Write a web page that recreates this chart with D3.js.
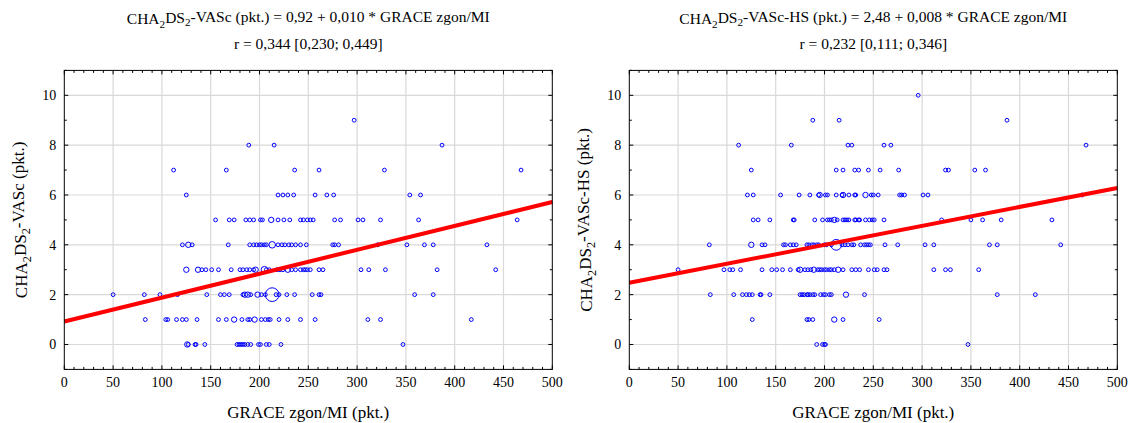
<!DOCTYPE html>
<html>
<head>
<meta charset="utf-8">
<script src="https://cdn.jsdelivr.net/npm/d3@7"></script>
<style>
	body { margin: 0; background: #fff; }
	svg { font-family: 'Liberation Serif', 'Times New Roman', serif; }
</style>
</head>
<body>
<div id="chart"></div>
<script>
// GRACE values per score level (index = score 0..10); repeated values = overlapping patients
var vascByScore = [
	[126,126,127,134,135,144,177,179,181,183,185,188,191,199,201,207,210,222,347],
	[83,104,106,115,121,125,136,158,166,174,174,182,188,190,195,195,202,206,209,211,220,229,242,257,311,324,417],
	[50,82,98,116,146,160,164,169,183,185,185,188,188,191,198,198,202,206,213,213,213,213,213,213,213,213,213,213,213,213,213,217,220,228,236,254,261,263,359,378],
	[125,125,137,137,141,145,151,158,171,180,183,187,190,194,196,196,205,205,205,207,210,218,221,224,229,229,233,237,242,245,247,249,252,261,265,304,312,329,382,442],
	[121,127,127,131,168,190,194,197,200,202,205,207,213,213,213,219,223,226,230,233,237,242,248,275,277,281,321,351,369,378,433],
	[155,169,174,186,190,194,201,203,212,212,219,225,231,242,245,249,252,255,277,283,301,306,324,363,464],
	[125,219,224,229,235,257,269,276,354,365],
	[112,166,236,261,328,468],
	[189,215,387],
	[297],
	[]
];
var hsByScore = [
	[192,198,200,201,347],
	[126,182,184,188,210,210,219,256],
	[83,107,116,120,123,126,134,135,144,175,177,179,182,183,185,188,190,196,199,201,205,207,222,222,241,377,416],
	[50,97,103,106,114,136,146,151,157,165,173,175,175,180,183,186,189,189,193,195,197,200,202,205,207,210,214,214,219,228,232,236,245,251,254,261,264,312,324,329,358],
	[82,125,125,136,139,158,160,165,168,171,182,184,187,189,192,194,200,202,207,212,212,212,212,212,212,212,212,218,221,224,228,230,237,241,243,245,247,262,275,303,312,369,377,442],
	[127,132,144,168,169,190,198,203,205,207,210,210,213,219,221,223,225,231,232,235,236,242,246,249,251,261,320,350,362,381,433],
	[121,127,155,174,185,194,195,195,201,203,212,218,219,219,225,231,232,242,242,248,250,255,277,279,282,301,306,464],
	[125,212,219,231,235,245,257,276,324,327,354,365],
	[112,166,224,228,261,268,468],
	[188,215,387],
	[296]
];

// regression lines
var intercepts = [0.92, 2.48];
var slopes = [0.0096, 0.0076];

var xTicks = [0,50,100,150,200,250,300,350,400,450,500];
var yTicks = [0,2,4,6,8,10];

var titleNames = ['CHA|2|DS|2|-VASc (pkt.) = 0,92 + 0,010 * GRACE zgon/MI', 'CHA|2|DS|2|-VASc-HS (pkt.) = 2,48 + 0,008 * GRACE zgon/MI'];
var titleR = ['r = 0,344 [0,230; 0,449]', 'r = 0,232 [0,111; 0,346]'];
var yTitles = ['CHA|2|DS|2|-VASc (pkt.)', 'CHA|2|DS|2|-VASc-HS (pkt.)'];
var xTitle = 'GRACE zgon/MI (pkt.)';

var svgWidth = 1132;
var svgHeight = 423;
var panelLeft = [64.3, 629.3];
var plotTop = 70.4;
var plotW = 488;
var plotH = 299;

var svg = d3.select('#chart')
	.append('svg')
	.attr('width', svgWidth)
	.attr('height', svgHeight);

// writes text with |sub| parts as subscripts
function subText(sel, str) {
	var parts = str.split('|');
	parts.forEach(function(p, i) {
		if (p === '') return;
		var t = sel.append('tspan').text(p);
		if (i % 2 == 1) {
			t.attr('dy', '0.3em').style('font-size', '0.72em');
		} else if (i > 0) {
			t.attr('dy', '-0.3em');
		}
	});
}

var x = d3.scaleLinear().domain([0, 500]).range([0, plotW]);
var y = d3.scaleLinear().domain([-1, 11]).range([plotH, 0]);
var rScale = function(n) { return 1.9 * Math.sqrt(n); };

[vascByScore, hsByScore].forEach(function(byScore, k) {
	var g = svg.append('g')
		.attr('transform', 'translate(' + panelLeft[k] + ',' + plotTop + ')');

	// grid
	g.selectAll('.gx').data(xTicks.slice(1, -1)).enter().append('line')
		.attr('x1', function(d){ return x(d); }).attr('x2', function(d){ return x(d); })
		.attr('y1', 0).attr('y2', plotH)
		.attr('stroke', '#d9d9d9').attr('stroke-width', 1.2);
	g.selectAll('.gy').data(yTicks).enter().append('line')
		.attr('y1', function(d){ return y(d); }).attr('y2', function(d){ return y(d); })
		.attr('x1', 0).attr('x2', plotW)
		.attr('stroke', '#d9d9d9').attr('stroke-width', 1.2);

	// inner ticks on all four sides
	var xMinor = d3.range(0, 501, 10);
	var yMinor = d3.range(-1, 12, 1);
	var tk = g.append('g').attr('stroke', '#000').attr('stroke-width', 1);
	xMinor.forEach(function(v) {
		var len = (v % 50 == 0) ? 4 : 2.5;
		tk.append('line').attr('x1', x(v)).attr('x2', x(v)).attr('y1', plotH).attr('y2', plotH - len);
		tk.append('line').attr('x1', x(v)).attr('x2', x(v)).attr('y1', 0).attr('y2', len);
	});
	yMinor.forEach(function(v) {
		var len = (v % 2 == 0) ? 4 : 2.5;
		tk.append('line').attr('y1', y(v)).attr('y2', y(v)).attr('x1', 0).attr('x2', len);
		tk.append('line').attr('y1', y(v)).attr('y2', y(v)).attr('x1', plotW).attr('x2', plotW - len);
	});

	// tick labels
	g.selectAll('.xl').data(xTicks).enter().append('text')
		.attr('x', function(d){ return x(d); })
		.attr('y', plotH + 18)
		.attr('text-anchor', 'middle')
		.style('font-size', '14px')
		.text(function(d){ return d; });
	g.selectAll('.yl').data(yTicks).enter().append('text')
		.attr('x', -8)
		.attr('y', function(d){ return y(d) + 5; })
		.attr('text-anchor', 'end')
		.style('font-size', '14px')
		.text(function(d){ return d; });

	// points, one circle per distinct (score, GRACE) with size by count
	var pts = [];
	byScore.forEach(function(arr, s) {
		var counts = d3.rollup(arr, function(v){ return v.length; }, function(d){ return d; });
		counts.forEach(function(n, gv) { pts.push({gx: gv, score: s, n: n}); });
	});
	g.selectAll('.pt').data(pts).enter().append('circle')
		.attr('cx', function(d){ return x(d.gx); })
		.attr('cy', function(d){ return y(d.score); })
		.attr('r', function(d){ return rScale(d.n); })
		.attr('fill', 'none')
		.attr('stroke', '#0000ff')
		.attr('stroke-width', 1);

	// regression line
	g.append('line')
		.attr('x1', x(0)).attr('y1', y(intercepts[k]))
		.attr('x2', x(500)).attr('y2', y(intercepts[k] + slopes[k] * 500))
		.attr('stroke', '#ff0000')
		.attr('stroke-width', 4);

	// frame
	g.append('rect')
		.attr('width', plotW).attr('height', plotH)
		.attr('fill', 'none').attr('stroke', '#000').attr('stroke-width', 1);

	// titles
	var t1 = g.append('text')
		.attr('x', plotW / 2).attr('y', -46)
		.attr('text-anchor', 'middle')
		.style('font-size', '15.5px');
	subText(t1, titleNames[k]);
	g.append('text')
		.attr('x', plotW / 2).attr('y', -21)
		.attr('text-anchor', 'middle')
		.style('font-size', '15.5px')
		.text(titleR[k]);

	g.append('text')
		.attr('x', plotW / 2).attr('y', plotH + 49)
		.attr('text-anchor', 'middle')
		.style('font-size', '17px')
		.text(xTitle);

	var yt = g.append('text')
		.attr('transform', 'translate(-37,' + (plotH / 2) + ') rotate(-90)')
		.attr('text-anchor', 'middle')
		.style('font-size', '17px');
	subText(yt, yTitles[k]);
});
</script>
</body>
</html>
